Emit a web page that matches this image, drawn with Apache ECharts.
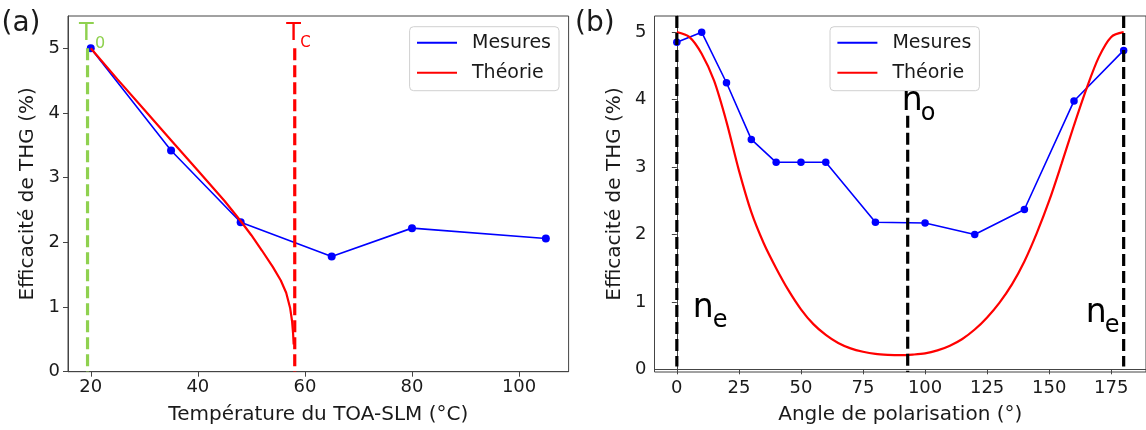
<!DOCTYPE html>
<html>
<head>
<meta charset="utf-8">
<script src="https://cdn.jsdelivr.net/npm/echarts@6/dist/echarts.min.js"></script>
<style>
  html, body { margin: 0; padding: 0; background: #fff; }
  #chart { width: 1146px; height: 430px; }
</style>
</head>
<body>
<div id="chart"></div>
<script>
// ---------- Data ----------
// (a) temperature dependence
const tempC = [20, 35, 48, 65, 80, 105];
const effTemp = [5.0, 3.42, 2.31, 1.78, 2.22, 2.06];
const theoryTemp = [20, 25, 30, 35, 40, 45, 48, 50, 52, 54, 55.5, 56.5, 57.25, 57.6, 57.8, 57.9];
const theoryTempEff = [5.0, 4.52, 4.05, 3.58, 3.11, 2.64, 2.33, 2.11, 1.87, 1.62, 1.41, 1.22, 0.98, 0.78, 0.58, 0.42];
const T0 = 19.4;
const TC = 58.1;
const tempRefLow = 0;
const tempRefHigh = 5;
const tempTicksX = [20, 40, 60, 80, 100];
const effTicks = [0, 1, 2, 3, 4, 5];

// (b) polarisation dependence
const angles = [0, 10, 20, 30, 40, 50, 60, 80, 100, 120, 140, 160, 180];
const effAngle = [4.85, 5.0, 4.25, 3.41, 3.07, 3.07, 3.07, 2.18, 2.17, 2.0, 2.37, 3.98, 4.73];
const theoryAngle = [0, 5, 10, 15, 20, 25, 30, 35, 40, 45, 50, 55, 60, 65, 70, 75, 80, 85, 90,
  95, 100, 105, 110, 115, 120, 125, 130, 135, 140, 145, 150, 155, 160, 165, 170, 175, 180];
const theoryAngleEff = [5.0, 4.93, 4.68, 4.28, 3.67, 2.95, 2.33, 1.87, 1.50, 1.17, 0.89, 0.67, 0.51, 0.39, 0.31, 0.26, 0.228, 0.215, 0.21,
  0.218, 0.235, 0.28, 0.35, 0.45, 0.59, 0.77, 0.99, 1.26, 1.60, 2.02, 2.50, 3.05, 3.62, 4.16, 4.63, 4.93, 5.0];
const neAngles = [0, 180];
const noAngle = 93;
const neLow = 0.04, neHigh = 5.24;
const noLow = -0.04, noHigh = 3.76;
const angleTicksX = [0, 25, 50, 75, 100, 125, 150, 175];

// ---------- Styles ----------
const FONT = 'DejaVu Sans';
const TXT = '#1a1a1a';
const SPINE = '#444';
const BLUE = '#0000ff';
const RED = '#ff0000';
const GREEN = '#8fd14f';
const BLACK = '#000000';

const zip = (xs, ys) => xs.map((x, i) => [x, ys[i]]);

function xAxisCfg(gridIndex, min, max, ticks, name) {
  return {
    type: 'value', gridIndex, min, max,
    name, nameLocation: 'middle', nameGap: 33,
    nameTextStyle: { fontFamily: FONT, fontSize: 20, color: TXT },
    axisLine: { show: true, lineStyle: { color: SPINE, width: 1 } },
    axisTick: { show: true, length: 5, inside: false, customValues: ticks, lineStyle: { color: SPINE } },
    axisLabel: { customValues: ticks, margin: 7, fontFamily: FONT, fontSize: 18, color: TXT },
    splitLine: { show: false }
  };
}
function yAxisCfg(gridIndex, min, max, ticks, name) {
  return {
    type: 'value', gridIndex, min, max,
    name, nameLocation: 'middle', nameGap: 30,
    nameTextStyle: { fontFamily: FONT, fontSize: 20, color: TXT },
    axisLine: { show: true, lineStyle: { color: SPINE, width: 1 } },
    axisTick: { show: true, length: 5, inside: false, customValues: ticks, lineStyle: { color: SPINE } },
    axisLabel: { customValues: ticks, margin: 8, fontFamily: FONT, fontSize: 18, color: TXT },
    splitLine: { show: false }
  };
}
function legendCfg(left) {
  return {
    data: ['Mesures', 'Théorie'],
    left, top: 26.7, orient: 'vertical',
    padding: [6, 8, 8, 7.4],
    itemWidth: 40, itemHeight: 2, itemGap: 10, icon: 'rect',
    textStyle: { fontFamily: FONT, fontSize: 19, lineHeight: 20, color: TXT, padding: [0, 0, 0, 10] },
    backgroundColor: 'rgba(255,255,255,0.85)',
    borderColor: '#d0d0d0', borderWidth: 1, borderRadius: 4
  };
}
function vline(name, xi, x, y0, y1, color) {
  return {
    name, type: 'line', xAxisIndex: xi, yAxisIndex: xi,
    data: [[x, y1], [x, y0]], symbol: 'none', silent: true, z: 5,
    lineStyle: { color, width: 3.2, type: [12, 5] }
  };
}

const chart = echarts.init(document.getElementById('chart'), null, { renderer: 'canvas' });

const option = {
  animation: false,
  backgroundColor: '#fff',
  grid: [
    { left: 68, top: 16, right: 577.4, bottom: 58.3, show: true, borderColor: SPINE, borderWidth: 1, backgroundColor: 'transparent' },
    { left: 654.5, top: 16, right: -7.6, bottom: 56.7, show: true, borderColor: SPINE, borderWidth: 1, backgroundColor: 'transparent' }
  ],
  xAxis: [
    xAxisCfg(0, 15.75, 109.25, tempTicksX, 'Température du TOA-SLM (°C)'),
    xAxisCfg(1, -9, 189, angleTicksX, 'Angle de polarisation (°)')
  ],
  yAxis: [
    yAxisCfg(0, 0, 5.5, effTicks, 'Efficacité de THG (%)'),
    yAxisCfg(1, -0.04, 5.24, effTicks, 'Efficacité de THG (%)')
  ],
  legend: [legendCfg(409.6), legendCfg(830)],
  series: [
    {
      name: 'Mesures', type: 'line', xAxisIndex: 0, yAxisIndex: 0,
      data: zip(tempC, effTemp), symbol: 'circle', symbolSize: 8, z: 2,
      itemStyle: { color: BLUE }, lineStyle: { color: BLUE, width: 1.6 }
    },
    {
      name: 'Théorie', type: 'line', xAxisIndex: 0, yAxisIndex: 0,
      data: zip(theoryTemp, theoryTempEff), symbol: 'none', smooth: false, z: 3,
      itemStyle: { color: RED }, lineStyle: { color: RED, width: 2.2 }
    },
    vline('T0', 0, T0, tempRefLow, tempRefHigh, GREEN),
    vline('TC', 0, TC, tempRefLow, tempRefHigh, RED),
    {
      name: 'Mesures', type: 'line', xAxisIndex: 1, yAxisIndex: 1,
      data: zip(angles, effAngle), symbol: 'circle', symbolSize: 7.5, z: 2,
      itemStyle: { color: BLUE }, lineStyle: { color: BLUE, width: 1.6 }
    },
    {
      name: 'Théorie', type: 'line', xAxisIndex: 1, yAxisIndex: 1,
      data: zip(theoryAngle, theoryAngleEff), symbol: 'none', smooth: 0.3, z: 3,
      itemStyle: { color: RED }, lineStyle: { color: RED, width: 2.2 }
    },
    vline('ne0', 1, neAngles[0], neLow, neHigh, BLACK),
    vline('ne1', 1, neAngles[1], neLow, neHigh, BLACK),
    vline('no', 1, noAngle, noLow, noHigh, BLACK)
  ]
};
chart.setOption(option);

// ---------- Annotations anchored on data coordinates ----------
function px(g, x, y) { return chart.convertToPixel({ gridIndex: g }, [x, y]); }
function txt(text, p, dx, dy, size, color) {
  return {
    type: 'text', z: 100, silent: true,
    x: p[0] + dx, y: p[1] + dy,
    style: { text, fontFamily: FONT, fontSize: size, fill: color, align: 'left', verticalAlign: 'middle' }
  };
}
const pT0 = px(0, T0, tempRefHigh);
const pTC = px(0, TC, tempRefHigh);
const pNo = px(1, noAngle, noHigh);
const pNe0 = px(1, neAngles[0], 0);
const pNe1 = px(1, neAngles[1], 0);

chart.setOption({
  graphic: [
    { type: 'text', z: 100, x: 1.5, y: 24, style: { text: '(a)', fontFamily: FONT, fontSize: 28, fill: TXT, verticalAlign: 'middle' } },
    { type: 'text', z: 100, x: 575, y: 24, style: { text: '(b)', fontFamily: FONT, fontSize: 28, fill: TXT, verticalAlign: 'middle' } },
    txt('T', pT0, -8.5, -14.7, 24, GREEN),
    txt('0', pT0, 7.5, -4.9, 16, GREEN),
    txt('T', pTC, -8.5, -14.7, 24, RED),
    txt('C', pTC, 5.5, -4.9, 15, RED),
    txt('n', pNo, -6, -14.8, 33, BLACK),
    txt('o', pNo, 13, -2, 24, BLACK),
    txt('n', pNe0, 16, -60.8, 33, BLACK),
    txt('e', pNe0, 36, -48.3, 24, BLACK),
    txt('n', pNe1, -38, -55.8, 33, BLACK),
    txt('e', pNe1, -19, -43.3, 24, BLACK)
  ]
});
</script>
</body>
</html>
